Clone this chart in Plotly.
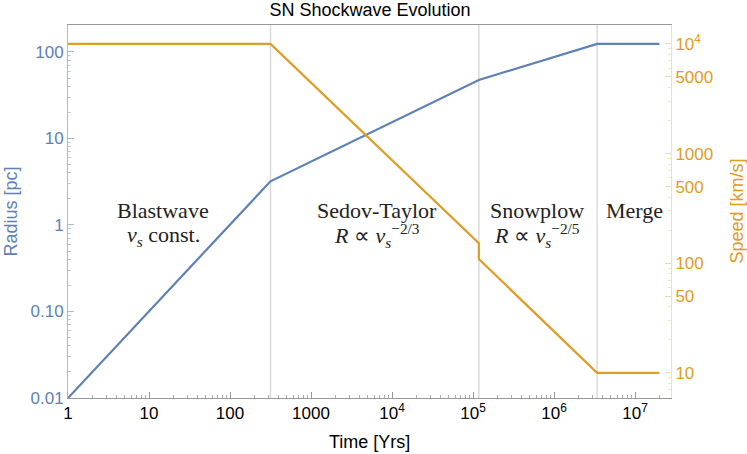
import numpy as np
import plotly.graph_objects as go

# ---- data ----
radius_time = [1, 316, 1.18e5, 3.4e6, 2.0e7]
radius_pc = [0.01, 3.2, 47.5, 124, 124]

speed_time = [1, 316, 1.18e5, 1.18e5, 3.4e6, 2.0e7]
speed_kms = [1.0e4, 1.0e4, 152, 109, 10, 10]

phase_bounds = [316, 1.18e5, 3.4e6]

x_tickvals = [1, 10, 100, 1000, 1e4, 1e5, 1e6, 1e7]
x_ticktext = ["1", "10", "100", "1000", "10<sup>4</sup>", "10<sup>5</sup>", "10<sup>6</sup>", "10<sup>7</sup>"]
y_tickvals = [0.01, 0.1, 1, 10, 100]
y_ticktext = ["0.01", "0.10", "1", "10", "100"]
y2_tickvals = [10, 50, 100, 500, 1000, 5000, 1e4]
y2_ticktext = ["10", "50", "100", "500", "1000", "5000", "10<sup>4</sup>"]

phase_names = ["Blastwave", "Sedov-Taylor", "Snowplow", "Merge"]
phase_laws = ["<i>v<sub>s</sub></i> const.",
              "<i>R</i> ∝ <i>v<sub>s</sub></i><sup>−2/3</sup>",
              "<i>R</i> ∝ <i>v<sub>s</sub></i><sup>−2/5</sup>",
              ""]

BLUE = "#5E81B5"
ORANGE = "#E19C24"
SANS = "Liberation Sans, Arial, sans-serif"
SERIF = "Liberation Serif, Times New Roman, serif"

W, H = 747, 454
L, R, T, B = 68, 671, 25, 398
PW, PH = R - L, B - T


def minor_vals(lo_exp, hi_exp):
    out = []
    for e in range(lo_exp, hi_exp + 1):
        for m in range(2, 10):
            out.append(m * 10.0 ** e)
    return out


def px(xp):
    return (xp - L) / PW


def py(yp):
    return (B - yp) / PH


fig = go.Figure()
fig.add_trace(go.Scatter(x=radius_time, y=radius_pc, mode="lines",
                         line=dict(color=BLUE, width=2.2), yaxis="y", showlegend=False))
fig.add_trace(go.Scatter(x=speed_time, y=speed_kms, mode="lines",
                         line=dict(color=ORANGE, width=2.2), yaxis="y2", showlegend=False))

for b in phase_bounds:
    fig.add_shape(type="line", xref="x", yref="paper", x0=b, x1=b, y0=0, y1=1,
                  line=dict(color="#DADADA", width=1.5), layer="below")

# phase annotations
label_x = [163, 377, 537, 634]
for lx, name, law in zip(label_x, phase_names, phase_laws):
    fig.add_annotation(xref="paper", yref="paper", x=px(lx), y=py(210),
                       text=name, showarrow=False, xanchor="center", yanchor="middle",
                       font=dict(family=SERIF, size=22, color="#222222"))
    if law:
        fig.add_annotation(xref="paper", yref="paper", x=px(lx), y=py(236),
                           text=law, showarrow=False, xanchor="center", yanchor="middle",
                           font=dict(family=SERIF, size=22, color="#222222"))

fig.add_annotation(xref="paper", yref="paper", x=px(10), y=0.5, text="Radius [pc]",
                   textangle=-90, showarrow=False, xanchor="center", yanchor="middle",
                   font=dict(family=SANS, size=18, color=BLUE))
fig.add_annotation(xref="paper", yref="paper", x=px(736), y=0.5, text="Speed [km/s]",
                   textangle=-90, showarrow=False, xanchor="center", yanchor="middle",
                   font=dict(family=SANS, size=18, color=ORANGE))
fig.add_annotation(xref="paper", yref="paper", x=px(369), y=py(442), text="Time [Yrs]",
                   showarrow=False, xanchor="center", yanchor="middle",
                   font=dict(family=SANS, size=18, color="black"))

fig.update_layout(
    width=W, height=H,
    margin=dict(l=L, r=W - R, t=T, b=H - B, autoexpand=False),
    paper_bgcolor="white", plot_bgcolor="white",
    title=dict(text="SN Shockwave Evolution", x=370 / W, xref="container", xanchor="center",
               y=1 - 10 / H, yref="container", yanchor="middle",
               font=dict(family=SANS, size=18, color="black"), automargin=False),
    xaxis=dict(type="log", range=[0, 7.444], tickvals=x_tickvals, ticktext=x_ticktext,
               ticks="inside", ticklen=6, tickcolor="#999999", tickwidth=1,
               showgrid=False, zeroline=False, showline=True, linecolor="#999999", linewidth=1,
               mirror=True, automargin=False,
               tickfont=dict(family=SANS, size=17, color="black"),
               minor=dict(tickvals=minor_vals(0, 7), ticks="inside", ticklen=3,
                          tickcolor="#AAAAAA", showgrid=False)),
    yaxis=dict(type="log", range=[-2, 2.312], tickvals=y_tickvals, ticktext=y_ticktext,
               ticks="inside", ticklen=6, tickcolor="#A9BBD6", tickwidth=1,
               showgrid=False, zeroline=False, showline=True, linecolor="#A9BBD6", linewidth=1,
               automargin=False,
               tickfont=dict(family=SANS, size=17, color=BLUE),
               minor=dict(tickvals=minor_vals(-2, 2), ticks="inside", ticklen=3,
                          tickcolor="#C0CDE0", showgrid=False)),
    yaxis2=dict(type="log", range=[0.77, 4.173], overlaying="y", side="right",
                tickvals=y2_tickvals, ticktext=y2_ticktext,
                ticks="inside", ticklen=6, tickcolor="#F3D7A8", tickwidth=1,
                showgrid=False, zeroline=False, showline=True, linecolor="#F6DEB5", linewidth=1,
                automargin=False,
                tickfont=dict(family=SANS, size=17, color=ORANGE),
                minor=dict(tickvals=minor_vals(0, 4), ticks="inside", ticklen=3,
                           tickcolor="#F6E2BF", showgrid=False)),
)

# remove the browser's default 8px body margin so the figure sits at the page origin
fig.write_html("out.html", config={"displayModeBar": False},
               post_script="document.body.style.margin='0px';")
